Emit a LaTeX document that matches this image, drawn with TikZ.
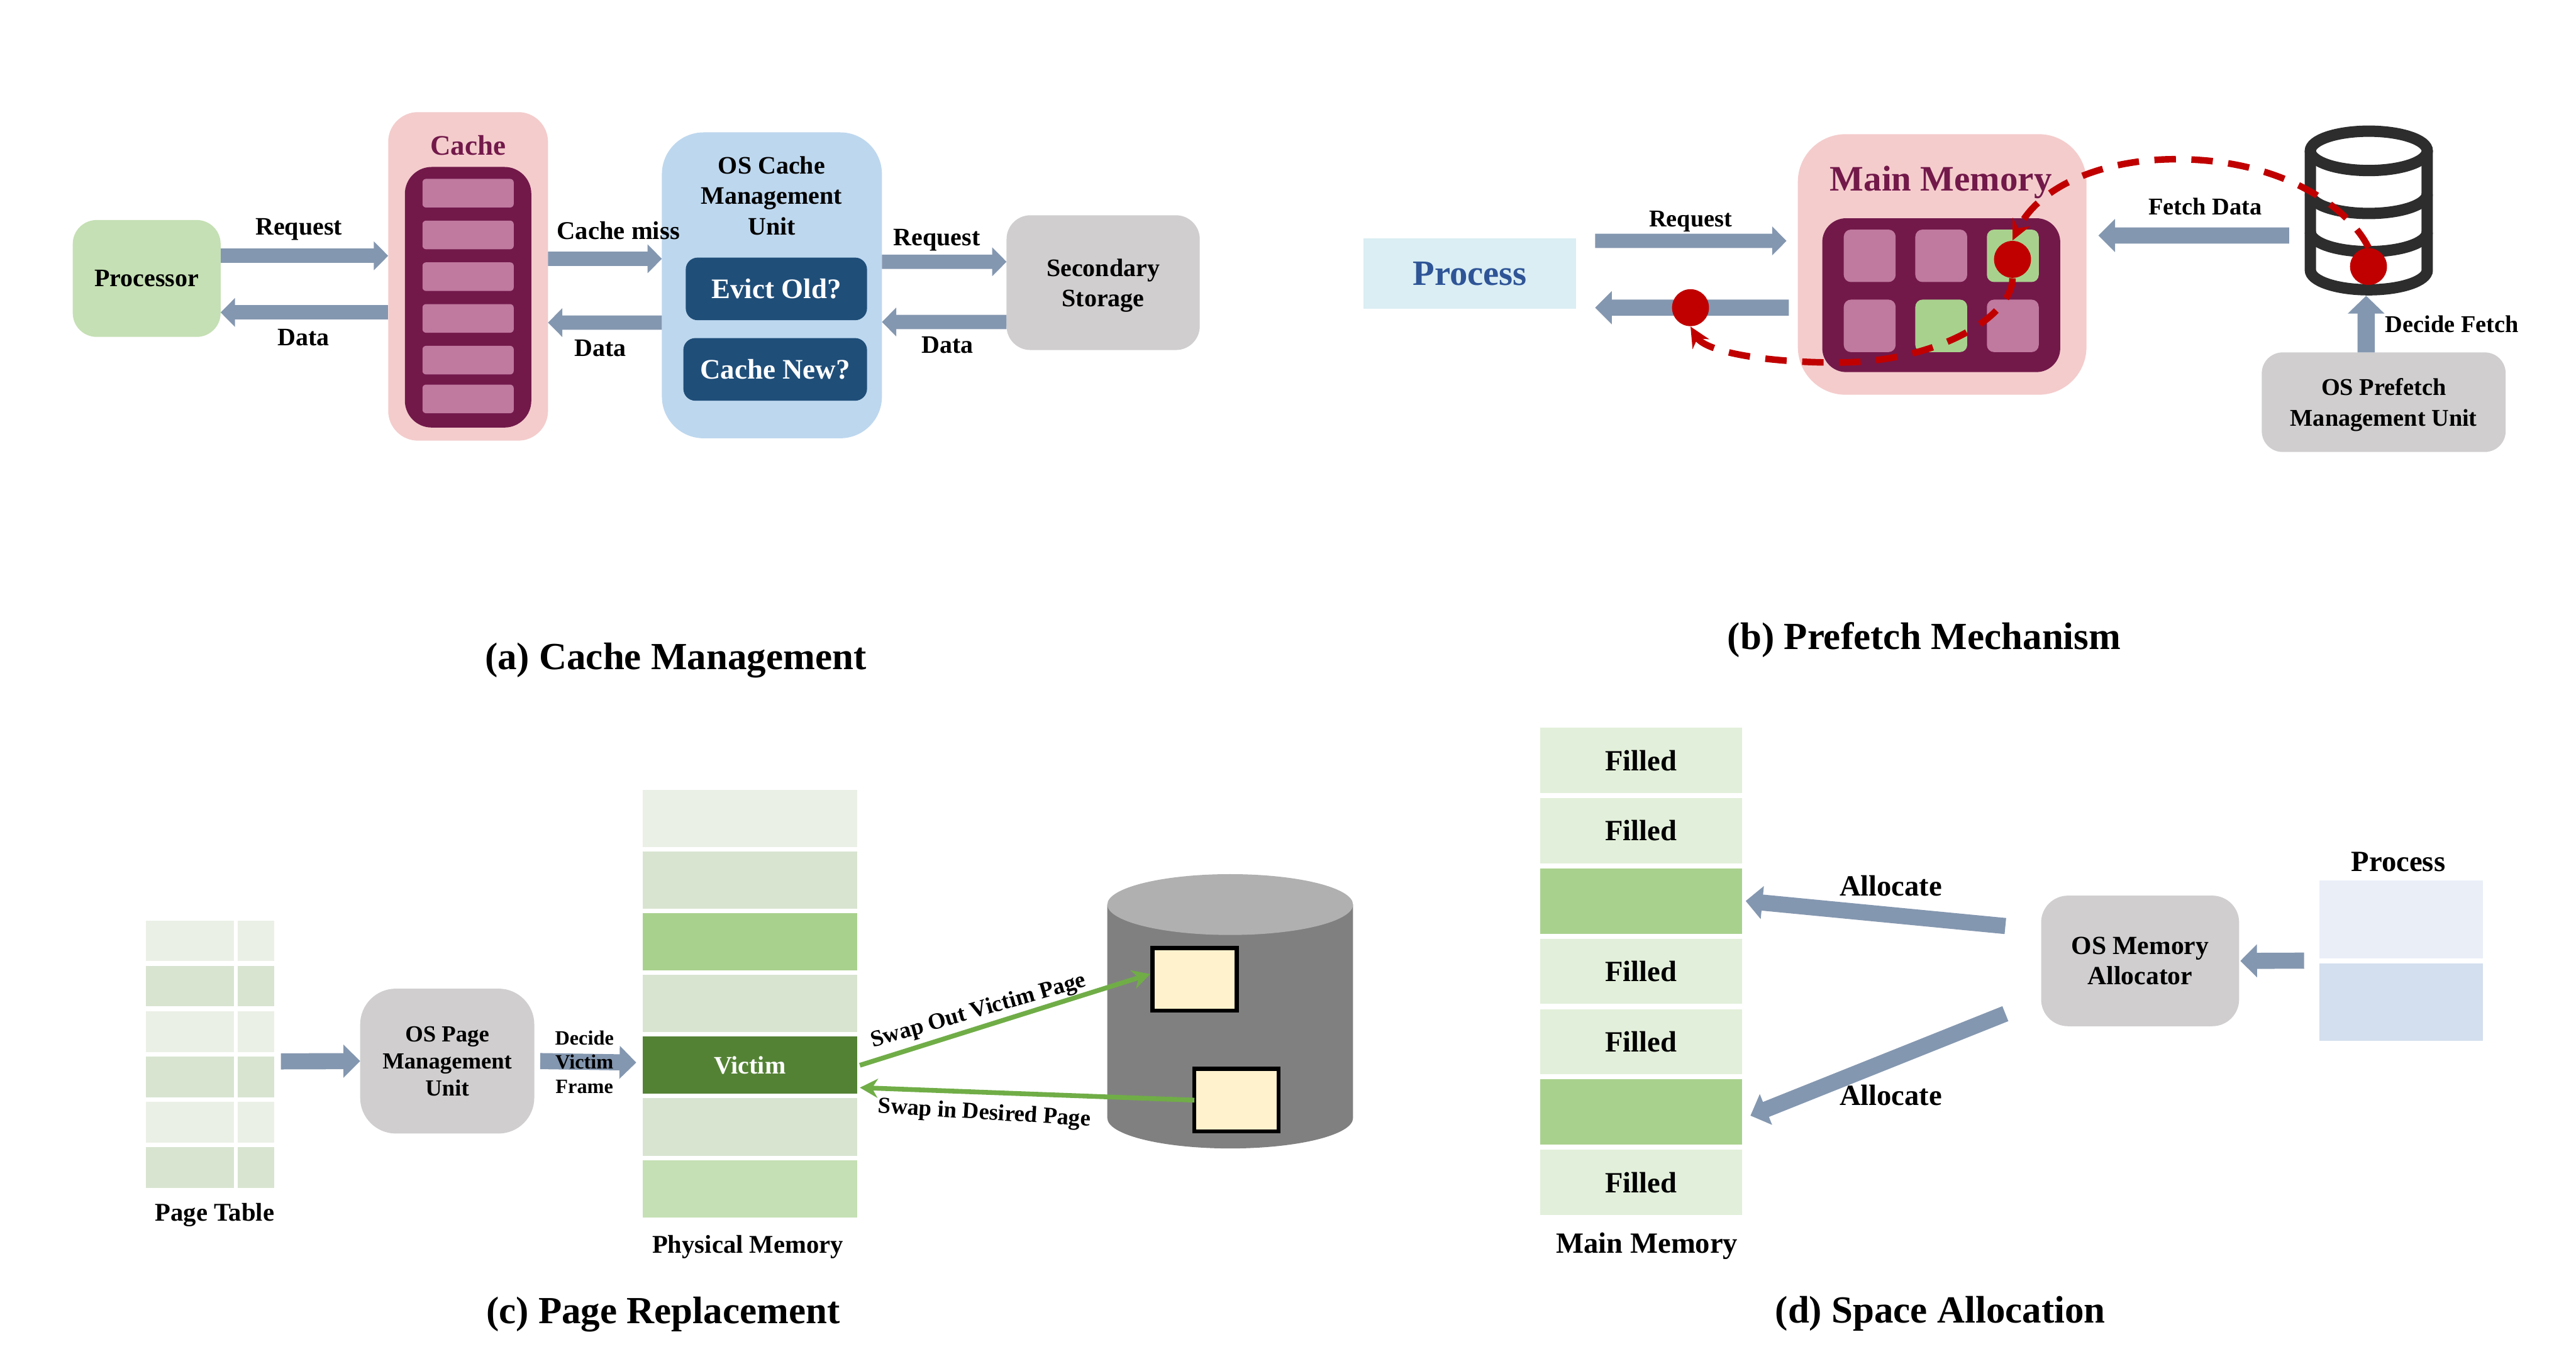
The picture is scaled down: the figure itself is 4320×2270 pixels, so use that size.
\documentclass[tikz,border=0pt]{standalone}
\usepackage{fontspec}
\setmainfont{Liberation Serif}
\usetikzlibrary{arrows.meta,positioning}

\definecolor{arrowblue}{HTML}{8497B0}
\definecolor{plum}{HTML}{72194A}
\definecolor{cellplum}{HTML}{C0799F}
\definecolor{pinkbg}{HTML}{F4CCCC}
\definecolor{bluebg}{HTML}{BDD7EE}
\definecolor{navy}{HTML}{1F4E79}
\definecolor{greenbg}{HTML}{C5E0B4}
\definecolor{midgreen}{HTML}{A9D18E}
\definecolor{darkgreen}{HTML}{548235}
\definecolor{linegreen}{HTML}{70AD47}
\definecolor{palegreen}{HTML}{E2EFDA}
\definecolor{washA}{HTML}{EBF0E7}
\definecolor{washB}{HTML}{D8E4D0}
\definecolor{graybg}{HTML}{D0CECE}
\definecolor{reddot}{HTML}{C00000}
\definecolor{dbgray}{HTML}{2D2D2D}
\definecolor{procblue}{HTML}{2F5597}
\definecolor{procbg}{HTML}{DAEEF3}
\definecolor{pagefill}{HTML}{FFF2CC}
\definecolor{stackA}{HTML}{E9EEF7}
\definecolor{stackB}{HTML}{D3DEEE}

\begin{document}
\begin{tikzpicture}[
  x=0.1mm, y=-0.1mm,
  sz/.style={font=\bfseries\fontsize{#1}{14.5}\selectfont},
  box/.style={inner sep=0pt, outer sep=0pt, align=center, text depth=0pt, sz=12},
  rbox/.style={box, rounded corners=4mm},
  lab/.style={inner sep=0pt, align=center, text depth=0pt, sz=12},
  cachecell/.style={box, rounded corners=0.6mm, fill=cellplum, minimum width=15.3mm, minimum height=4.8mm},
  memcell/.style={box, rounded corners=1.2mm, fill=cellplum, minimum width=8.7mm, minimum height=8.8mm},
  physcell/.style={box, minimum width=35.9mm, minimum height=9.6mm},
  pagecellL/.style={box, minimum width=14.7mm, minimum height=6.8mm},
  pagecellR/.style={box, minimum width=6.1mm, minimum height=6.8mm},
  fillcell/.style={box, sz=14, minimum width=33.9mm, minimum height=10.95mm},
  diskpage/.style={box, draw=black, line width=0.7mm, fill=pagefill, minimum width=14.1mm, minimum height=10.5mm},
  arrA/.style={line width=2.4mm, arrowblue, -{Triangle[length=2.4mm,width=4.7mm]}},
  arrB/.style={line width=2.7mm, arrowblue, -{Triangle[length=2.8mm,width=5.4mm]}},
  swap/.style={line width=0.8mm, linegreen, -{Stealth[length=3mm,width=3.2mm]}},
  reddash/.style={line width=1.1mm, reddot, dash pattern=on 3.6mm off 2.6mm, -{Stealth[length=3.4mm,width=3.2mm]}},
  dbline/.style={line width=1.9mm, dbgray},
  dot/.style={circle, fill=reddot, inner sep=0pt, minimum size=6.2mm}
]
\useasboundingbox (0,0) rectangle (4320,2270);

% (a) cache management
\node[rbox, fill=greenbg, minimum width=24.8mm, minimum height=19.6mm] (proc) at (246,467) {Processor};
\node[rbox, rounded corners=5mm, fill=pinkbg, minimum width=26.8mm, minimum height=55.1mm] (cacheouter) at (785,463.5) {};
\node[lab, sz=13.5, text=plum] (cachetitle) at (785,244) {Cache};
\node[rbox, rounded corners=4.5mm, fill=plum, minimum width=21.2mm, minimum height=43.7mm] (cacheinner) at (785,498.5) {};
\node[cachecell] (cc1) at (785,324) {};
\node[cachecell, below=2.2mm of cc1] (cc2) {};
\node[cachecell, below=2.2mm of cc2] (cc3) {};
\node[cachecell, below=2.2mm of cc3] (cc4) {};
\node[cachecell, below=2.2mm of cc4] (cc5) {};
\node[cachecell, below=1.7mm of cc5] (cc6) {};
\node[rbox, rounded corners=7mm, fill=bluebg, minimum width=36.9mm, minimum height=51.3mm] (osc) at (1294.5,478.5) {};
\node[lab] (osctext) at (1294,328) {OS Cache\\Management\\Unit};
\node[rbox, rounded corners=2mm, sz=13.5, text=white, fill=navy, minimum width=30.4mm, minimum height=10.5mm] (evict) at (1302,484.5) {Evict Old?};
\node[rbox, rounded corners=2mm, sz=13.5, text=white, fill=navy, minimum width=30.8mm, minimum height=10.5mm] (cnew) at (1300,619.5) {Cache New?};
\node[rbox, fill=graybg, minimum width=32.4mm, minimum height=22.6mm] (sec) at (1850,474) {Secondary\\Storage};

\draw[arrA] ([yshift=3.8mm]proc.east) -- ([yshift=3.45mm]cacheouter.west);
\draw[arrA] ([yshift=-6.05mm]cacheouter.west) -- ([yshift=-5.7mm]proc.east);
\draw[arrA] ([yshift=2.95mm]cacheouter.east) -- ([yshift=4.45mm]osc.west);
\draw[arrA] ([yshift=-6.25mm]osc.west) -- ([yshift=-7.75mm]cacheouter.east);
\draw[arrA] ([yshift=3.95mm]osc.east) -- ([yshift=3.5mm]sec.west);
\draw[arrA] ([yshift=-6.6mm]sec.west) -- ([yshift=-6.15mm]osc.east);

\node[lab] (reqa) at (501,380) {Request};
\node[lab] (dataa) at (509,566) {Data};
\node[lab, sz=12.2] (missa) at (1037,386) {Cache miss};
\node[lab] (datab) at (1007,584) {Data};
\node[lab] (reqb) at (1571,398) {Request};
\node[lab] (datac) at (1589,578) {Data};
\node[lab, sz=18.3] (capa) at (1133,1100) {(a) Cache Management};

% (b) prefetch mechanism
\node[box, sz=17, text=procblue, fill=procbg, minimum width=35.6mm, minimum height=11.8mm] (pro) at (2465,459) {Process};
\node[rbox, rounded corners=8mm, fill=pinkbg, minimum width=48.4mm, minimum height=43.7mm] (mem) at (3257,443.5) {};
\node[lab, sz=17.1, text=plum] (memtitle) at (3255,299) {Main Memory};
\node[rbox, rounded corners=4mm, fill=plum, minimum width=39.9mm, minimum height=25.8mm] (meminner) at (3255.5,495) {};
\node[memcell] (m1) at (3135.5,429) {};
\node[memcell, right=3.3mm of m1] (m2) {};
\node[memcell, fill=midgreen, right=3.3mm of m2] (m3) {};
\node[memcell, below=2.95mm of m1] (m4) {};
\node[memcell, fill=midgreen, below=2.95mm of m2] (m5) {};
\node[memcell, below=2.95mm of m3] (m6) {};

\node[inner sep=0pt, outer sep=0pt, minimum width=21.5mm, minimum height=28.6mm] (db) at (3972.5,353) {};
\draw[dbline] (3972.5,253) ellipse[x radius=98, y radius=33];
\draw[dbline] (3874.5,253) -- (3874.5,453) arc[start angle=180, end angle=0, x radius=98, y radius=33] -- (4070.5,253);
\draw[dbline] (3874.5,325) arc[start angle=180, end angle=0, x radius=98, y radius=33];
\draw[dbline] (3874.5,389) arc[start angle=180, end angle=0, x radius=98, y radius=33];
\node[rbox, rounded corners=3.5mm, fill=graybg, sz=11.5, minimum width=40.9mm, minimum height=16.7mm] (osp) at (3997.5,674.5) {OS Prefetch\\Management Unit};

\draw[arrA] ([shift={(3.2mm,5.5mm)}]pro.east) -- ([shift={(-1.9mm,3.95mm)}]mem.west);
\draw[arrB] ([shift={(-1.5mm,-7.25mm)}]mem.west) -- ([shift={(3.2mm,-5.7mm)}]pro.east);
\draw[arrB] ([shift={(-2.6mm,-4.2mm)}]db.west) -- ([shift={(2mm,4.85mm)}]mem.east);
\draw[line width=2.9mm, arrowblue, -{Triangle[length=3mm,width=6mm]}] ([xshift=-2.95mm]osp.north) -- ([xshift=-0.45mm]db.south);

\node[dot] (fetchdot) at (3972,447) {};
\node[dot] (memdot) at (3375,435) {};
\node[dot] (backdot) at (2835,516) {};
\draw[reddash] (fetchdot.north) .. controls (3940,350) and (3830,267) .. (3649,267)
  .. controls (3530,267) and (3420,310) .. (memdot.north);
\draw[reddash] (memdot.south) .. controls (3375,530) and (3250,608) .. (3080,608)
  .. controls (2960,608) and (2860,590) .. (backdot.south);

\node[lab, sz=11.5] (reqp) at (2835,367) {Request};
\node[lab, sz=11.5] (fetchlab) at (3698,346) {Fetch Data};
\node[lab, sz=11.5] (decfetch) at (4112,543) {Decide Fetch};
\node[lab, sz=18.3] (capb) at (3227,1066) {(b) Prefetch Mechanism};

% (c) page replacement
\node[pagecellL, fill=washA] (pl1) at (318.5,1578) {};
\node[pagecellL, fill=washB, below=0.8mm of pl1] (pl2) {};
\node[pagecellL, fill=washA, below=0.8mm of pl2] (pl3) {};
\node[pagecellL, fill=washB, below=0.8mm of pl3] (pl4) {};
\node[pagecellL, fill=washA, below=0.8mm of pl4] (pl5) {};
\node[pagecellL, fill=washB, below=0.8mm of pl5] (pl6) {};
\node[pagecellR, fill=washA, right=0.7mm of pl1] (pr1) {};
\node[pagecellR, fill=washB, right=0.7mm of pl2] (pr2) {};
\node[pagecellR, fill=washA, right=0.7mm of pl3] (pr3) {};
\node[pagecellR, fill=washB, right=0.7mm of pl4] (pr4) {};
\node[pagecellR, fill=washA, right=0.7mm of pl5] (pr5) {};
\node[pagecellR, fill=washB, right=0.7mm of pl6] (pr6) {};
\node[lab, sz=12.2] (ptlab) at (360,2033) {Page Table};
\node[rbox, rounded corners=6mm, fill=graybg, font=\bfseries\fontsize{11}{13}\selectfont, minimum width=29.2mm, minimum height=24.3mm] (osg) at (750,1779.5) {OS Page\\Management\\Unit};

\node[physcell, fill=washA] (ph1) at (1257.5,1372.5) {};
\node[physcell, fill=washB, below=0.75mm of ph1] (ph2) {};
\node[physcell, fill=midgreen, below=0.75mm of ph2] (ph3) {};
\node[physcell, fill=washB, below=0.75mm of ph3] (ph4) {};
\node[physcell, fill=darkgreen, text=white, below=0.75mm of ph4] (ph5) {Victim};
\node[physcell, fill=washB, below=0.75mm of ph5] (ph6) {};
\node[physcell, fill=greenbg, below=0.75mm of ph6] (ph7) {};
\node[lab, sz=12.2] (physlab) at (1254,2087) {Physical Memory};

% disk
\fill[black!50] (1857,1517) -- (1857,1875) arc[start angle=180, end angle=0, x radius=206, y radius=51] -- (2269,1517) -- cycle;
\fill[black!31] (2063,1517) ellipse[x radius=206, y radius=51];
\node[diskpage] (pg1) at (2003.5,1642.5) {};
\node[diskpage] (pg2) at (2073.5,1845) {};

\draw[arrB] ([shift={(1.1mm,2.6mm)}]pr4.east) -- (osg.west);
\draw[arrB] ([xshift=1mm]osg.east) -- ([shift={(-1.1mm,0.45mm)}]ph5.west);
\draw[swap] ([xshift=0.5mm]ph5.east) -- ([shift={(-0.4mm,0.9mm)}]pg1.west);
\draw[swap] (pg2.west) -- ([shift={(0.5mm,-3.75mm)}]ph5.east);

\node[lab, font=\bfseries\fontsize{9.7}{11.5}\selectfont] (decv) at (980,1781) {Decide\\Victim\\Frame};
\node[lab, sz=11, rotate=16] (swout) at (1640,1692) {Swap Out Victim Page};
\node[lab, sz=11, rotate=-3.5] (swin) at (1651,1864) {Swap in Desired Page};
\node[lab, sz=18.3] (capc) at (1112,2197) {(c) Page Replacement};

% (d) space allocation
\node[fillcell, fill=palegreen] (f1) at (2752,1275) {Filled};
\node[fillcell, fill=palegreen, below=0.85mm of f1] (f2) {Filled};
\node[fillcell, fill=midgreen, below=0.85mm of f2] (f3) {};
\node[fillcell, fill=palegreen, below=0.85mm of f3] (f4) {Filled};
\node[fillcell, fill=palegreen, below=0.85mm of f4] (f5) {Filled};
\node[fillcell, fill=midgreen, below=0.85mm of f5] (f6) {};
\node[fillcell, fill=palegreen, below=0.85mm of f6] (f7) {Filled};
\node[lab, sz=14] (mmlab) at (2762,2084) {Main Memory};

\node[rbox, rounded corners=4.5mm, fill=graybg, sz=12.5, minimum width=33.2mm, minimum height=21.9mm] (alloc) at (3589,1611.5) {OS Memory\\Allocator};
\node[box, fill=stackA, minimum width=27.4mm, minimum height=13mm] (pa) at (4027,1542) {};
\node[box, fill=stackB, minimum width=27.4mm, minimum height=13mm, below=0.9mm of pa] (pb) {};
\node[lab, sz=14] (plab) at (4022,1445) {Process};

\coordinate (alloctop) at (3363,1553);
\coordinate (allocbot) at (3363,1700);
\draw[arrB] ([shift={(-2.6mm,-0.4mm)}]pa.south west) -- ([xshift=0.2mm]alloc.east);
\draw[arrB] (alloctop) -- ([xshift=0.6mm]f3.east);
\draw[arrB] (allocbot) -- ([shift={(1.4mm,-0.6mm)}]f6.east);

\node[lab, sz=14] (ala) at (3171,1485) {Allocate};
\node[lab, sz=14] (alb) at (3171,1836) {Allocate};
\node[lab, sz=18.3] (capd) at (3254,2196) {(d) Space Allocation};
\end{tikzpicture}
\end{document}
